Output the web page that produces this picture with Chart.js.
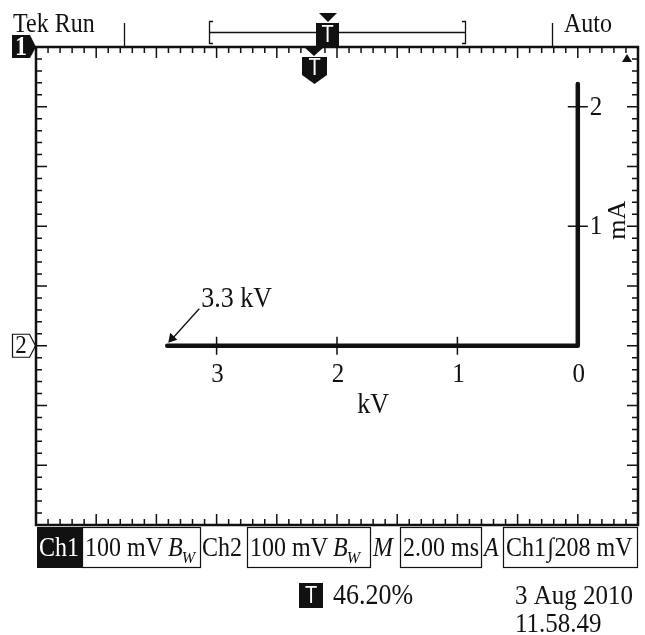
<!DOCTYPE html>
<html>
<head>
<meta charset="utf-8">
<title>Tek XY trace</title>
<script src="https://cdn.jsdelivr.net/npm/chart.js@4.4.0/dist/chart.umd.min.js"></script>
<style>
  html, body { margin: 0; padding: 0; background: #fff; }
  canvas { display: block; }
</style>
</head>
<body>
<canvas id="scope" width="645" height="635"></canvas>
<script>
// XY trace: voltage (kV, grows to the left) vs current (mA)
const traceKV = [3.41, 0.0, 0.0];
const traceMA = [0.0, 0.0, 2.19];

// labels printed on the screen
const kvTicks = [3, 2, 1, 0];
const maTicks = [1, 2];

const SERIF = "'Liberation Serif', 'Times New Roman', serif";
const SANS = "'Liberation Sans', Arial, sans-serif";
const INK = '#111';

// the scope font is a bit taller than Times, so stretch it vertically
function text(ctx, s, x, y, size, o) {
    o = o || {};
    ctx.save();
    ctx.font = (o.style || '') + ' ' + size + 'px ' + (o.family || SERIF);
    ctx.fillStyle = o.color || INK;
    ctx.textAlign = o.align || 'left';
    ctx.textBaseline = o.base || 'alphabetic';
    ctx.translate(x, y);
    ctx.scale(1, o.sy || 1.1);
    ctx.fillText(s, 0, 0);
    const w = ctx.measureText(s).width;
    ctx.restore();
    return w;
}

function tBadge(ctx, cx, cy) {
    text(ctx, 'T', cx, cy, 20, { family: SANS, color: '#fff', align: 'center', base: 'middle', sy: 1.2 });
}

// graticule, axis marks, labels and the scope's status bars
const scopeScreen = {
    id: 'scopeScreen',
    afterDraw(chart) {
        const { ctx, chartArea: a, scales: { x, y } } = chart;
        ctx.save();

        // frame
        ctx.strokeStyle = INK;
        ctx.lineWidth = 2.5;
        ctx.strokeRect(a.left, a.top, a.right - a.left, a.bottom - a.top);

        // border ticks: 10 x 8 divisions, 5 minor each
        const dx = (a.right - a.left) / 50, dy = (a.bottom - a.top) / 40;
        ctx.lineWidth = 1.5;
        ctx.beginPath();
        for (let i = 1; i < 50; i++) {
            const px = a.left + i * dx, len = i % 5 === 0 ? 11 : 6;
            ctx.moveTo(px, a.top); ctx.lineTo(px, a.top + len);
            ctx.moveTo(px, a.bottom); ctx.lineTo(px, a.bottom - len);
        }
        for (let i = 1; i < 40; i++) {
            const py = a.top + i * dy, len = i % 5 === 0 ? 11 : 6;
            ctx.moveTo(a.left, py); ctx.lineTo(a.left + len, py);
            ctx.moveTo(a.right, py); ctx.lineTo(a.right - len, py);
        }
        ctx.stroke();

        // ticks on the trace axes
        const x0 = x.getPixelForValue(0), y0 = y.getPixelForValue(0);
        ctx.beginPath();
        kvTicks.forEach(v => {
            if (!v) return;
            const px = x.getPixelForValue(v);
            ctx.moveTo(px, y0 - 9); ctx.lineTo(px, y0 + 9);
        });
        maTicks.forEach(v => {
            const py = y.getPixelForValue(v);
            ctx.moveTo(x0 - 10, py); ctx.lineTo(x0 + 10, py);
        });
        ctx.stroke();

        kvTicks.forEach(v => text(ctx, String(v), x.getPixelForValue(v) + 1, y0 + 36, 25, { align: 'center' }));
        text(ctx, 'kV', x.getPixelForValue(1.7), y0 + 67, 26, { align: 'center' });
        maTicks.forEach(v => text(ctx, String(v), x0 + 12, y.getPixelForValue(v) + 1, 25, { base: 'middle' }));
        ctx.save();
        ctx.translate(x0 + 40, y.getPixelForValue(1.05));
        ctx.rotate(-Math.PI / 2);
        text(ctx, 'mA', 0, 0, 26, { align: 'center', base: 'middle', sy: 1 });
        ctx.restore();

        // "3.3 kV" callout pointing at the end of the trace
        const xe = x.getPixelForValue(traceKV[0]);
        text(ctx, '3.3 kV', xe + 34, y0 - 39, 26);
        ctx.lineWidth = 1.3;
        ctx.beginPath(); ctx.moveTo(xe + 32, y0 - 37); ctx.lineTo(xe + 5, y0 - 7); ctx.stroke();
        ctx.fillStyle = INK;
        ctx.beginPath();
        ctx.moveTo(xe + 1, y0 - 3); ctx.lineTo(xe + 3, y0 - 13); ctx.lineTo(xe + 10, y0 - 6);
        ctx.closePath(); ctx.fill();

        // channel markers on the left edge
        ctx.fillStyle = INK;
        ctx.beginPath();
        ctx.moveTo(12, 35); ctx.lineTo(30, 35); ctx.lineTo(36, a.top); ctx.lineTo(30, 58); ctx.lineTo(12, 58);
        ctx.closePath(); ctx.fill();
        text(ctx, '1', 21, a.top + 1, 24, { style: 'bold', color: '#fff', align: 'center', base: 'middle' });
        ctx.lineWidth = 1.2;
        ctx.beginPath();
        ctx.moveTo(12.5, y0 - 11.5); ctx.lineTo(29.5, y0 - 11.5); ctx.lineTo(35.5, y0);
        ctx.lineTo(29.5, y0 + 11.5); ctx.lineTo(12.5, y0 + 11.5);
        ctx.closePath(); ctx.stroke();
        text(ctx, '2', 21, y0 + 1, 23, { align: 'center', base: 'middle' });

        // little arrow, top right
        ctx.fillStyle = INK;
        ctx.beginPath();
        ctx.moveTo(a.right - 16, a.top + 15); ctx.lineTo(a.right - 6, a.top + 15); ctx.lineTo(a.right - 11, a.top + 7);
        ctx.closePath(); ctx.fill();

        // top status line
        text(ctx, 'Tek Run', 13, 32, 24);
        text(ctx, 'Auto', 564, 32, 24);
        ctx.lineWidth = 1.3;
        ctx.beginPath();
        ctx.moveTo(124.5, 23); ctx.lineTo(124.5, a.top);
        ctx.moveTo(552.5, 23); ctx.lineTo(552.5, a.top);
        ctx.moveTo(213, 21.5); ctx.lineTo(209.5, 21.5); ctx.lineTo(209.5, 43.5); ctx.lineTo(213, 43.5);
        ctx.moveTo(462, 21.5); ctx.lineTo(465.5, 21.5); ctx.lineTo(465.5, 43.5); ctx.lineTo(462, 43.5);
        ctx.moveTo(209.5, 32.5); ctx.lineTo(465.5, 32.5);
        ctx.stroke();
        ctx.fillStyle = INK;
        ctx.fillRect(316, 23, 23, a.top - 23);
        ctx.beginPath();
        ctx.moveTo(319, 13); ctx.lineTo(337, 13); ctx.lineTo(328, 22); ctx.closePath(); ctx.fill();
        tBadge(ctx, 327.5, 35);
        // trigger position marker under the frame
        ctx.fillStyle = INK;
        ctx.beginPath();
        ctx.moveTo(304, a.top); ctx.lineTo(324, a.top); ctx.lineTo(314, a.top + 9); ctx.closePath(); ctx.fill();
        ctx.beginPath();
        ctx.moveTo(302, 57); ctx.lineTo(327, 57); ctx.lineTo(327, 75); ctx.lineTo(314.5, 84); ctx.lineTo(302, 75);
        ctx.closePath(); ctx.fill();
        tBadge(ctx, 314.5, 68);

        // bottom status bar
        const top = 527, h = 40, base = 556;
        ctx.fillStyle = INK;
        ctx.fillRect(37, top, 45, h + 1);
        text(ctx, 'Ch1', 39, base, 24, { color: '#fff' });
        ctx.lineWidth = 1.2;
        ctx.strokeStyle = INK;
        [[82, 200], [247, 370], [400, 481], [503, 637]].forEach(b => ctx.strokeRect(b[0] + 0.5, top + 0.5, b[1] - b[0], h));
        const bw = (x1) => {
            let p = x1 + text(ctx, '100 mV', x1, base, 24) + 5;
            p += text(ctx, 'B', p, base, 24, { style: 'italic' });
            text(ctx, 'W', p - 1, base + 7, 16, { style: 'italic' });
        };
        bw(85);
        text(ctx, 'Ch2', 202, base, 24);
        bw(250);
        text(ctx, 'M', 373, base, 24, { style: 'italic' });
        text(ctx, '2.00 ms', 403, base, 24);
        text(ctx, 'A', 484, base, 24, { style: 'italic' });
        let p = 506 + text(ctx, 'Ch1', 506, base, 24) + 1;
        p += text(ctx, '\u222B', p, base, 24, { style: 'bold italic' }) + 1;
        text(ctx, '208 mV', p, base, 24);

        // trigger level / timestamp
        ctx.fillStyle = INK;
        ctx.fillRect(299, 583, 24, 25);
        tBadge(ctx, 311, 596);
        text(ctx, '46.20%', 333, 604, 26);
        text(ctx, '3 Aug 2010', 515, 604, 25);
        text(ctx, '11.58.49', 515, 632, 25);

        ctx.restore();
    }
};

new Chart(document.getElementById('scope'), {
    type: 'scatter',
    data: {
        datasets: [{
            data: traceKV.map((v, i) => ({ x: v, y: traceMA[i] })),
            showLine: true,
            borderColor: INK,
            borderWidth: 4.5,
            pointRadius: 0,
            borderJoinStyle: 'round',
            borderCapStyle: 'round'
        }]
    },
    options: {
        responsive: false,
        devicePixelRatio: 1,
        animation: false,
        layout: { padding: { left: 36, right: 7, top: 47, bottom: 110 } },
        plugins: { legend: { display: false }, tooltip: { enabled: false } },
        scales: {
            x: { type: 'linear', reverse: true, min: -0.5, max: 4.5, display: false },
            y: { type: 'linear', min: -1.5, max: 2.5, display: false }
        }
    },
    plugins: [scopeScreen]
});
</script>
</body>
</html>
